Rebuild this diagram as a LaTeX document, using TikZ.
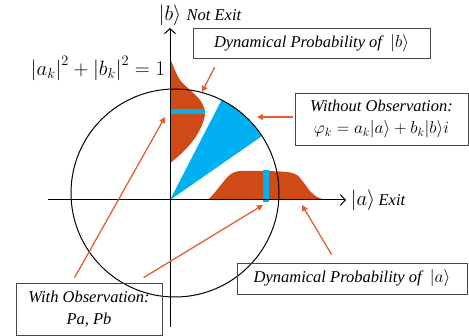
\documentclass[tikz,border=0pt]{standalone}
\usepackage{fontspec}
\setmainfont{Liberation Serif}
\usetikzlibrary{arrows.meta,calc}
\definecolor{fillor}{RGB}{208,74,24}
\definecolor{arrowor}{RGB}{228,96,50}
\definecolor{skyb}{RGB}{0,176,240}
\definecolor{boxgray}{RGB}{70,70,70}
\begin{document}
\begin{tikzpicture}[x=1pt,y=1pt,
  lbox/.style={draw=boxgray, line width=0.8pt, inner sep=0pt, align=center,
    font=\fontsize{16.5}{21}\selectfont\itshape},
  pointer/.style={draw=arrowor, line width=1.3pt, -{Triangle[length=6pt,width=6pt]}},
  axisline/.style={line width=1pt, -{Straight Barb[length=5pt,width=11pt]}},
  lbl/.style={inner sep=1pt, font=\fontsize{16.5}{20}\selectfont\itshape},
  ket/.style={inner sep=1pt, font=\fontsize{20}{24}\selectfont}]
\useasboundingbox (0,0) rectangle (469,336);

% distribution of |b>
\fill[fillor] plot[smooth, tension=0.6] coordinates {(170,278) (174,268) (180,256) (190,246) (200,236) (205,224) (202,211) (195,198) (185,186) (174,176) (170,173)} -- cycle;
\fill[skyb] (170,222) rectangle (205,227);

% distribution of |a>
\fill[fillor] plot[smooth, tension=0.5] coordinates {(208,136) (216,145) (224,155) (231,162) (240,165) (265,165) (287,164) (297,161) (304,153) (310,145) (317,139) (326,136)} -- cycle;
\fill[skyb] (263,134) rectangle (269,166);

% wedge
\fill[skyb] (170,136) -- ($(175,143)+(63.4:104pt)$) arc[start angle=63.4, end angle=33.2, radius=104pt] -- cycle;

% circle
\draw[line width=1pt] (175,143) circle[radius=104pt];

% axes
\coordinate (xs) at (48,136);
\coordinate (xe) at (346,136);
\coordinate (ys) at (170,9);
\coordinate (ye) at (170,308);
\draw[axisline] (xs) -- (xe);
\draw[axisline] (ys) -- (ye);

% axis labels
\node[ket] (bket) at (170,321) {$|b\rangle$};
\node[lbl, anchor=west] (notexit) at ([xshift=3pt]bket.east) {Not Exit};
\node[ket] (aket) at (363,136) {$|a\rangle$};
\node[lbl, anchor=west] (exit) at ([xshift=1pt]aket.east) {Exit};

% normalisation
\node[ket] (norm) at (98,268) {$\left|a_k\right|^2+\left|b_k\right|^2=1$};

% boxes
\node[lbox, minimum width=237pt, minimum height=30pt] (dynb) at (311.5,293) {Dynamical Probability of \ $|b\rangle$};
\node[lbox, minimum width=173pt, minimum height=52pt] (wob) at (381.5,217) {Without Observation:\\[1pt] $\varphi_k=a_k\bigl|a\bigr\rangle+b_k\bigl|b\bigr\rangle i$};
\node[lbox, minimum width=230pt, minimum height=31pt] (dyna) at (352,57.5) {Dynamical Probability of \ $|a\rangle$};
\node[lbox, minimum width=146pt, minimum height=52pt] (wo) at (89,27) {With Observation:\\[1pt] Pa, Pb};

% targets
\coordinate (tb) at (202,244);
\coordinate (tw) at (257,219);
\coordinate (tbo) at (165,219);
\coordinate (tao) at (263,131);
\coordinate (ta) at (302,131);

% pointers
\draw[pointer] ($(dynb.south west)+(22,-9)$) -- (tb);
\draw[pointer] ($(wob.west)+(-2,2)$) -- (tw);
\draw[pointer] ($(wo.north west)+(59,5)$) -- (tbo);
\draw[pointer] ($(wo.north west)+(128,5)$) -- (tao);
\draw[pointer] ($(dyna.north west)+(95,8)$) -- (ta);
\end{tikzpicture}
\end{document}
